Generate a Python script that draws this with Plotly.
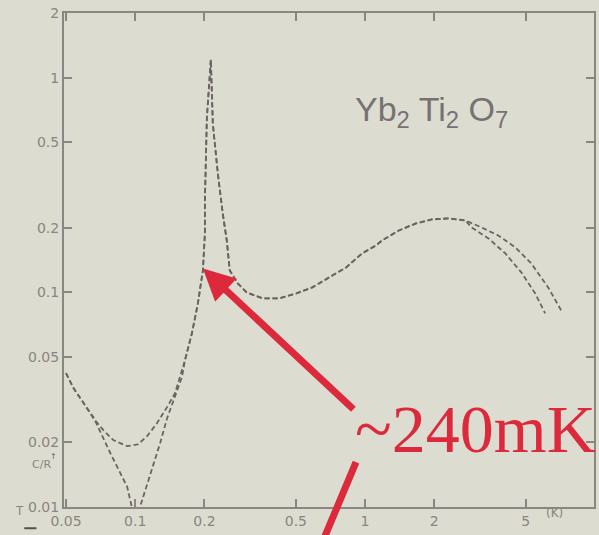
import numpy as np
import plotly.graph_objects as go

# ---- data (T in K, C/R) ----
T_a = [0.05, 0.0539, 0.0596, 0.0658, 0.0727, 0.0803, 0.0923, 0.103, 0.1127, 0.1245,
       0.1376, 0.149, 0.1646, 0.1765, 0.1874, 0.197, 0.201, 0.201, 0.205, 0.2133,
       0.2176, 0.2288, 0.2404, 0.2502, 0.2578, 0.2792, 0.3053, 0.358, 0.4243, 0.5027,
       0.5896, 0.6985, 0.8273, 0.9705, 1.116, 1.185, 1.403, 1.663, 1.95, 2.31,
       2.736, 3.21, 3.80, 4.506, 5.284, 6.26, 7.125]
C_a = [0.042, 0.0358, 0.0305, 0.0259, 0.0228, 0.0205, 0.0192, 0.0196, 0.0214, 0.0246,
       0.0292, 0.0339, 0.0483, 0.0645, 0.0889, 0.1266, 0.188, 0.268, 0.651, 1.213,
       0.611, 0.358, 0.233, 0.1745, 0.1266, 0.1101, 0.1, 0.0938, 0.0938, 0.0989,
       0.1055, 0.1174, 0.1307, 0.1518, 0.1654, 0.1745, 0.1943, 0.2094, 0.2186, 0.221,
       0.2163, 0.2006, 0.184, 0.162, 0.1364, 0.1055, 0.0825]

T_b = [0.05, 0.0539, 0.0596, 0.0658, 0.078, 0.0836, 0.0923, 0.1, 0.1083, 0.1185,
       0.1283, 0.1376, 0.149, 0.1597, 0.1646, 0.1765, 0.1874, 0.197, 0.201, 0.201,
       0.205, 0.2133, 0.2176, 0.2288, 0.2404, 0.2502, 0.2578, 0.2792, 0.3053, 0.358,
       0.4243, 0.5027, 0.5896, 0.6985, 0.8273, 0.9705, 1.116, 1.185, 1.403, 1.663,
       1.95, 2.31, 2.736, 2.905, 3.442, 4.077, 4.783, 5.499, 6.075]
C_b = [0.042, 0.0358, 0.0305, 0.0262, 0.0178, 0.0153, 0.0124, 0.0085, 0.0111, 0.0149,
       0.0198, 0.0259, 0.0325, 0.0402, 0.0483, 0.0645, 0.0889, 0.1266, 0.188, 0.268,
       0.651, 1.213, 0.611, 0.358, 0.233, 0.1745, 0.1266, 0.1101, 0.1, 0.0938,
       0.0938, 0.0989, 0.1055, 0.1174, 0.1307, 0.1518, 0.1654, 0.1745, 0.1943, 0.2094,
       0.2186, 0.221, 0.2163, 0.2006, 0.1783, 0.1518, 0.1239, 0.0989, 0.0798]

x_ticks = [0.05, 0.1, 0.2, 0.5, 1, 2, 5]
x_labels = ["0.05", "0.1", "0.2", "0.5", "1", "2", "5"]
y_ticks = [0.01, 0.02, 0.05, 0.1, 0.2, 0.5, 1, 2]
y_labels = ["0.01", "0.02", "0.05", "0.1", "0.2", "0.5", "1", "2"]

arrow_T, arrow_C = 0.197, 0.129   # the point the red arrow marks

BG = "#dcddd0"
AX = "#8c8683"
LINE = "#6c6464"
RED = "#dc2a3c"
TXT = "#8a8581"

fig = go.Figure()
fig.add_trace(go.Scatter(x=T_b, y=C_b, mode="lines",
                         line=dict(color=LINE, width=1.8, dash="5px,3px"),
                         showlegend=False))
fig.add_trace(go.Scatter(x=T_a, y=C_a, mode="lines",
                         line=dict(color=LINE, width=1.8, dash="5px,3px"),
                         showlegend=False))

axis_common = dict(type="log", showgrid=False, zeroline=False, showline=True,
                   linecolor=AX, linewidth=2, mirror="ticks", ticks="inside",
                   ticklen=8, tickwidth=1.5, tickcolor=AX,
                   tickfont=dict(family="DejaVu Sans", size=14, color=TXT))

fig.update_xaxes(range=[np.log10(0.049), 0.996], tickvals=x_ticks, ticktext=x_labels,
                 **axis_common)
fig.update_yaxes(range=[-2.0, 0.3015], tickvals=y_ticks, ticktext=y_labels,
                 **axis_common)

fig.add_annotation(x=0.694, y=0.80, xref="paper", yref="paper",
                   xanchor="center", yanchor="middle",
                   text="Yb<sub>2</sub> Ti<sub>2</sub> O<sub>7</sub>", showarrow=False,
                   font=dict(family="Liberation Sans", size=34, color="#777272"))

fig.add_annotation(x=np.log10(arrow_T), y=np.log10(arrow_C), xref="x", yref="y",
                   text="", showarrow=True, ax=152, ay=142,
                   arrowcolor=RED, arrowwidth=7, arrowhead=2, arrowsize=0.9)

fig.add_annotation(x=0.776, y=0.158, xref="paper", yref="paper",
                   text="~240mK", showarrow=False, xanchor="center", yanchor="middle",
                   font=dict(family="Liberation Serif", size=68, color=RED))

fig.add_shape(type="line", xref="paper", yref="paper",
              x0=0.551, y0=0.091, x1=0.492, y1=-0.06,
              line=dict(color=RED, width=7))

fig.add_annotation(x=0.945, y=-0.03, xref="paper", yref="paper", text="(K)",
                   showarrow=False, font=dict(family="DejaVu Sans", size=12, color=TXT))
fig.add_annotation(x=-0.096, y=-0.026, xref="paper", yref="paper", text="T",
                   showarrow=False, font=dict(family="DejaVu Sans", size=12, color=TXT))
fig.add_annotation(x=-0.064, y=0.068, xref="paper", yref="paper", text="C/R",
                   showarrow=False, font=dict(family="DejaVu Sans", size=11, color=TXT))
fig.add_annotation(x=-0.03, y=0.09, xref="paper", yref="paper", text="↑",
                   showarrow=False, font=dict(family="DejaVu Sans", size=8, color="#666060"))
fig.add_shape(type="line", xref="paper", yref="paper",
              x0=-0.075, y0=-0.043, x1=-0.052, y1=-0.043,
              line=dict(color="#555050", width=2))

fig.update_layout(width=599, height=535, margin=dict(l=64, r=3, t=13, b=28),
                  paper_bgcolor=BG, plot_bgcolor=BG)

fig.write_html("out.html")
